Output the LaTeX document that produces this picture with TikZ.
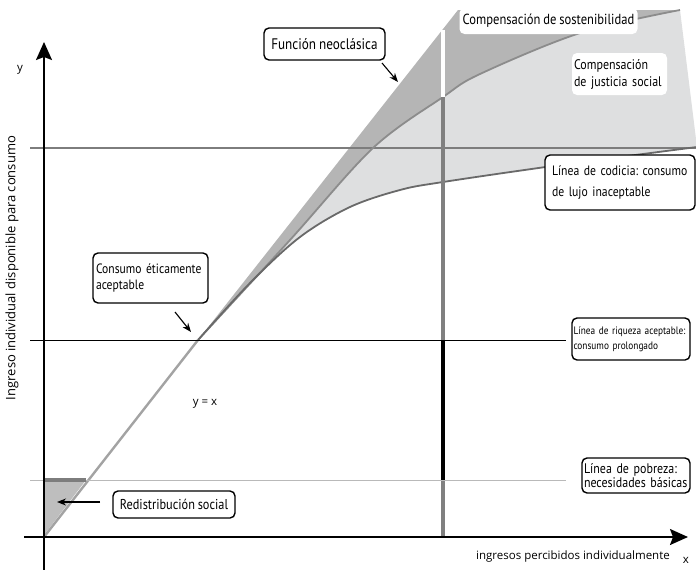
\documentclass[tikz,border=0pt]{standalone}
\usepackage{fontspec}
\setmainfont{Open Sans}
\newfontfamily\boxfont[FakeStretch=0.86,WordSpace=0.85]{PT Sans}
\newfontfamily\axfont{Open Sans}
\usetikzlibrary{arrows.meta}
\frenchspacing
\definecolor{darkfill}{RGB}{181,181,181}
\definecolor{lightfill}{RGB}{222,223,224}
\definecolor{midcurve}{RGB}{140,140,140}
\definecolor{lowcurve}{RGB}{105,105,105}
\definecolor{greedgray}{RGB}{125,125,125}
\definecolor{vertgray}{RGB}{128,128,128}
\definecolor{povgray}{RGB}{185,185,185}
\definecolor{trifill}{RGB}{190,190,190}
\tikzset{
  labelbox/.style={draw=black, line width=1.4pt, rounded corners=5pt, fill=white,
    inner xsep=3pt, inner ysep=2pt, align=left},
  whitebox/.style={fill=white, rounded corners=5pt, inner sep=2pt, align=left},
  callout/.style={-{Stealth[length=9pt,width=7pt]}, line width=1.1pt},
  axis/.style={line width=1.8pt, -{Stealth[length=18pt,width=16pt,inset=3pt]}},
  axlabel/.style={font=\axfont\fontsize{11.5}{13}\selectfont, inner sep=0pt}
}
\begin{document}
\begin{tikzpicture}[x=1pt,y=-1pt]
\useasboundingbox (0,0) rectangle (696,570);
% light gray region
\fill[lightfill] plot[smooth,tension=0.55] coordinates {(198,340) (290,240) (373,148) (443,97) (480,74) (580,33) (680,10)}
  -- (697,147)
  -- plot[smooth,tension=0.55] coordinates {(697,147) (560,165) (443,182) (400,190) (350,207) (300,237) (250,283) (198,340)} -- cycle;
% dark gray region
\fill[darkfill] (198,340) -- (458,10) -- (680,10)
  -- plot[smooth,tension=0.55] coordinates {(680,10) (580,33) (480,74) (443,97) (373,148) (290,240) (198,340)} -- cycle;
% redistribution triangle
\fill[trifill] (44,535) -- (86,480) -- (44,480) -- cycle;
% greed line
\draw[greedgray, line width=2.4pt] (30,148) -- (696,148);
% curves
\draw[midcurve, line width=1.8pt] plot[smooth,tension=0.55] coordinates {(198,340) (290,240) (373,148) (443,97) (480,74) (580,33) (680,10)};
\draw[lowcurve, line width=1.8pt] plot[smooth,tension=0.55] coordinates {(198,340) (250,283) (300,237) (350,207) (400,190) (443,182) (560,165) (697,147)};
% diagonal below
\draw[midcurve!80, line width=2.4pt] (44,537) -- (198,340);
% vertical line
\draw[vertgray, line width=3.6pt] (443,97) -- (443,537);
\draw[white, line width=3.6pt] (443,30) -- (443,97);
\draw[black, line width=3.6pt] (443,340) -- (443,480);
% horizontal lines
\draw[black, line width=1pt] (30,340) -- (566,340);
\draw[povgray, line width=1pt] (30,480) -- (566,480);
\draw[greedgray, line width=3.5pt] (44,480) -- (86,480);
% axes
\coordinate (yb) at (44,570);
\coordinate (yt) at (44,42);
\coordinate (xl) at (24,537);
\coordinate (xr) at (688,537);
\draw[axis] (yb) -- (yt);
\draw[axis] (xl) -- (xr);
% axis labels
\node[axlabel] (ylab) at (20,70) {y};
\node[axlabel] (xlab) at (686,560) {x};
\node[axlabel] (xtext) at (573,557) {ingresos percibidos individualmente};
\node[axlabel, rotate=90, font=\axfont\fontsize{13}{15}\selectfont] (ytext) at (12,268) {Ingreso individual disponible para consumo};
\node[axlabel] (yx) at (205,404) {y = x};
% white labels
\node[whitebox, minimum width=178pt, minimum height=26pt, font=\boxfont\fontsize{14.6}{17}\selectfont] (sost) at (548.5,21) {Compensación de sostenibilidad};
\node[whitebox, text width=91pt, minimum height=42pt, font=\boxfont\fontsize{13.9}{17}\selectfont] (just) at (619.5,74) {\mbox{Compensación}\\\mbox{de justicia social}};
% boxed labels
\node[labelbox, minimum width=121pt, minimum height=32pt, align=center, font=\boxfont\fontsize{15.3}{17}\selectfont] (neo) at (324.5,44) {Función neoclásica};
\node[labelbox, text width=109pt, minimum height=50pt, font=\boxfont\fontsize{13.5}{15.5}\selectfont] (etico) at (150.5,278) {\mbox{Consumo éticamente}\\\mbox{aceptable}};
\node[labelbox, minimum width=122pt, minimum height=27pt, align=center, font=\boxfont\fontsize{14.3}{16}\selectfont] (redis) at (174,504.5) {Redistribución social};
\node[labelbox, text width=136pt, inner xsep=7pt, minimum height=55pt, font=\boxfont\fontsize{13.6}{21}\selectfont] (codicia) at (620,182.5) {\mbox{Línea de codicia: consumo}\\\mbox{de lujo inaceptable}};
\node[labelbox, text width=115pt, inner xsep=1.5pt, minimum height=42pt, font=\boxfont\fontsize{10.8}{15}\selectfont] (riqueza) at (631,339) {\mbox{Línea de riqueza aceptable:}\\\mbox{consumo prolongado}};
\node[labelbox, text width=104pt, inner xsep=2pt, minimum height=35pt, font=\boxfont\fontsize{13.9}{11.5}\selectfont] (pobreza) at (636,475.5) {\mbox{Línea de pobreza:}\\\mbox{necesidades básicas}};
% callout arrows
\coordinate (neoA) at (382,63);
\coordinate (neoB) at (398,82);
\coordinate (etA) at (175,312);
\coordinate (etB) at (191,332);
\coordinate (reA) at (100,502);
\coordinate (reB) at (57,502);
\draw[callout] (neoA) -- (neoB);
\draw[callout] (etA) -- (etB);
\draw[callout] (reA) -- (reB);
\end{tikzpicture}
\end{document}
